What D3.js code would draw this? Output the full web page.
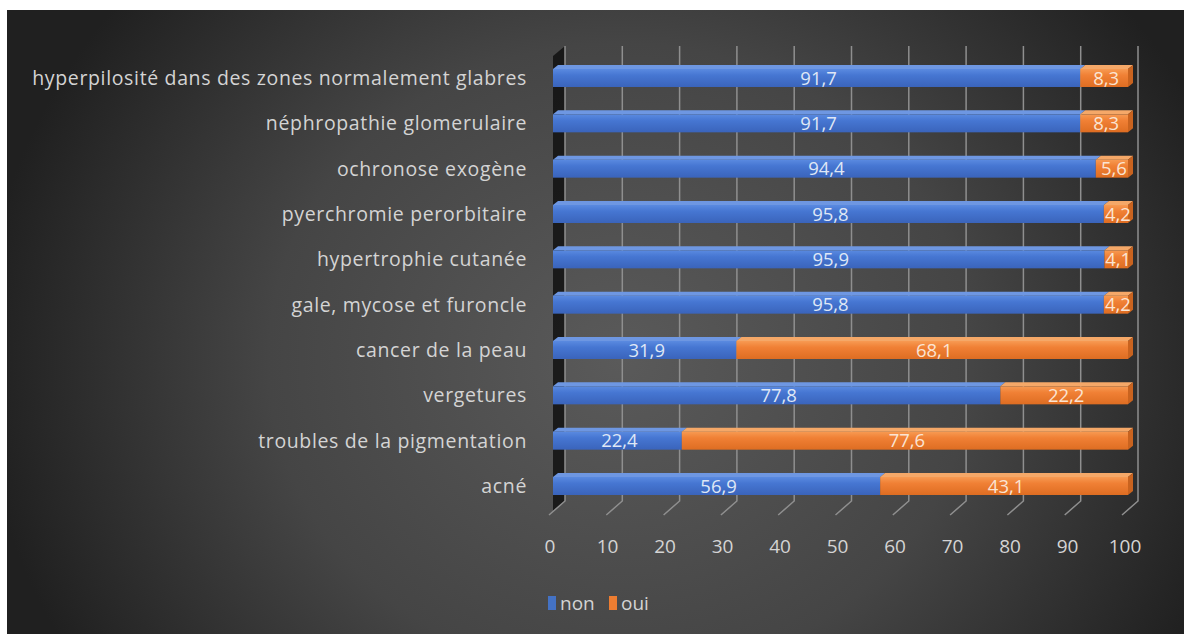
<!DOCTYPE html>
<html><head><meta charset="utf-8">
<script src="https://cdn.jsdelivr.net/npm/d3@7"></script>
<style>html,body{margin:0;padding:0;background:#fff;}svg{display:block;}</style>
</head><body>
<svg id="c" width="1184" height="634"></svg>
<script>
const categories = ["hyperpilosité dans des zones normalement glabres","néphropathie glomerulaire","ochronose exogène","pyerchromie perorbitaire","hypertrophie cutanée","gale, mycose et furoncle","cancer de la peau","vergetures","troubles de la pigmentation","acné"];
const nonValues = [91.7,91.7,94.4,95.8,95.9,95.8,31.9,77.8,22.4,56.9];
const ouiValues = [8.3,8.3,5.6,4.2,4.1,4.2,68.1,22.2,77.6,43.1];
const seriesNames = ["non","oui"];
const xTicks = [0,10,20,30,40,50,60,70,80,90,100];

const svg = d3.select("#c");
const font = "'Open Sans', sans-serif";
const defs = svg.append("defs");
const bg = defs.append("radialGradient").attr("id","bg").attr("gradientUnits","userSpaceOnUse")
  .attr("cx",620).attr("cy",360).attr("r",640).attr("gradientTransform","translate(620,360) scale(1,0.9) translate(-620,-360)");
bg.append("stop").attr("offset","0").attr("stop-color","#5a5a5a");
bg.append("stop").attr("offset","0.55").attr("stop-color","#454545");
bg.append("stop").attr("offset","1").attr("stop-color","#202020");
svg.append("rect").attr("x",7).attr("y",10).attr("width",1177).attr("height",624).attr("fill","url(#bg)");

function grad(id, top, mid, bot){
  const g = defs.append("linearGradient").attr("id",id).attr("x1",0).attr("y1",0).attr("x2",0).attr("y2",1);
  g.append("stop").attr("offset","0").attr("stop-color",top);
  g.append("stop").attr("offset","0.35").attr("stop-color",mid);
  g.append("stop").attr("offset","1").attr("stop-color",bot);
}
grad("gBlue","#5a8ae0","#4676d2","#3a64bb");
grad("gOrange","#f79a52","#f08035","#de6d22");
const colors = {non:{front:"url(#gBlue)",top:"#6e97e2",end:"#3458a6",text:"#dfe7f6"},
                oui:{front:"url(#gOrange)",top:"#f5a868",end:"#c9631f",text:"#fbe4d2"}};

const xF = d3.scaleLinear().domain([0,100]).range([553,1128]);
const xB = d3.scaleLinear().domain([0,100]).range([565,1138]);
const yC = d3.scalePoint().domain(categories).range([78,486]);
const wallTop = 46, wallBot = 501, floorDx = 16, floorDy = 14;
const barH = 18, dx = 5, dy = 4;

// left wall
svg.append("path").attr("d",`M${xB(0)},${wallTop}L${xB(0)},${wallBot}L${xF(0)},${wallBot+10}L${xF(0)},${wallTop+10}Z`)
  .attr("fill","#111").attr("opacity",0.85);
// gridlines back wall + floor
const g = svg.append("g");
xTicks.forEach(t=>{
  g.append("path").attr("d",`M${xB(t)},${wallTop}L${xB(t)},${wallBot}L${xB(t)-floorDx},${wallBot+floorDy}`)
   .attr("fill","none").attr("stroke","#8f8f8f").attr("stroke-width",1.5);
});

// bars
const rows = categories.map((c,i)=>({cat:c, segs:[{s:"non",a:0,b:nonValues[i],v:nonValues[i]},{s:"oui",a:nonValues[i],b:nonValues[i]+ouiValues[i],v:ouiValues[i]}]}));
const fmt = v => d3.format(".1f")(v).replace(".",",");
rows.forEach(r=>{
  const c = yC(r.cat);
  const top = c - barH/2;
  r.segs.forEach((sg,k)=>{
    const x0 = xF(sg.a), x1 = xF(sg.b), col = colors[sg.s];
    svg.append("path").attr("d",`M${x0},${top}L${x0+dx},${top-dy}L${x1+dx},${top-dy}L${x1},${top}Z`).attr("fill",col.top);
    if(k===r.segs.length-1){
      svg.append("path").attr("d",`M${x1},${top}L${x1+dx},${top-dy}L${x1+dx},${top+barH-dy}L${x1},${top+barH}Z`).attr("fill",col.end);
    }
    svg.append("rect").attr("x",x0).attr("y",top).attr("width",x1-x0).attr("height",barH).attr("fill",col.front);
  });
  r.segs.forEach(sg=>{
    const x0 = xF(sg.a), x1 = xF(sg.b);
    svg.append("text").attr("x",(x0+x1)/2+2).attr("y",c+6.5).attr("text-anchor","middle")
      .attr("font-family",font).attr("font-size",18.5).attr("fill",colors[sg.s].text).text(fmt(sg.v));
  });
});

// category labels
svg.append("g").selectAll("text").data(categories).join("text")
  .attr("x",527).attr("y",d=>yC(d)+7).attr("text-anchor","end")
  .attr("font-family",font).attr("font-size",19.5).attr("letter-spacing",0.65).attr("fill","#d4d4d4").text(d=>d);

// tick labels
svg.append("g").selectAll("text").data(xTicks).join("text")
  .attr("x",d=>xF(d)-3).attr("y",553).attr("text-anchor","middle")
  .attr("font-family",font).attr("font-size",19).attr("fill","#d4d4d4").text(d=>d);

// legend
const leg = svg.append("g");
const legX = [548, 609];
seriesNames.forEach((s,i)=>{
  leg.append("rect").attr("x",legX[i]).attr("y",596).attr("width",8).attr("height",14).attr("fill",s==="non"?"#4472c4":"#ed7d31");
  leg.append("text").attr("x",legX[i]+12).attr("y",610).attr("font-family",font).attr("font-size",19).attr("fill","#d4d4d4").text(s);
});
</script>
</body></html>
